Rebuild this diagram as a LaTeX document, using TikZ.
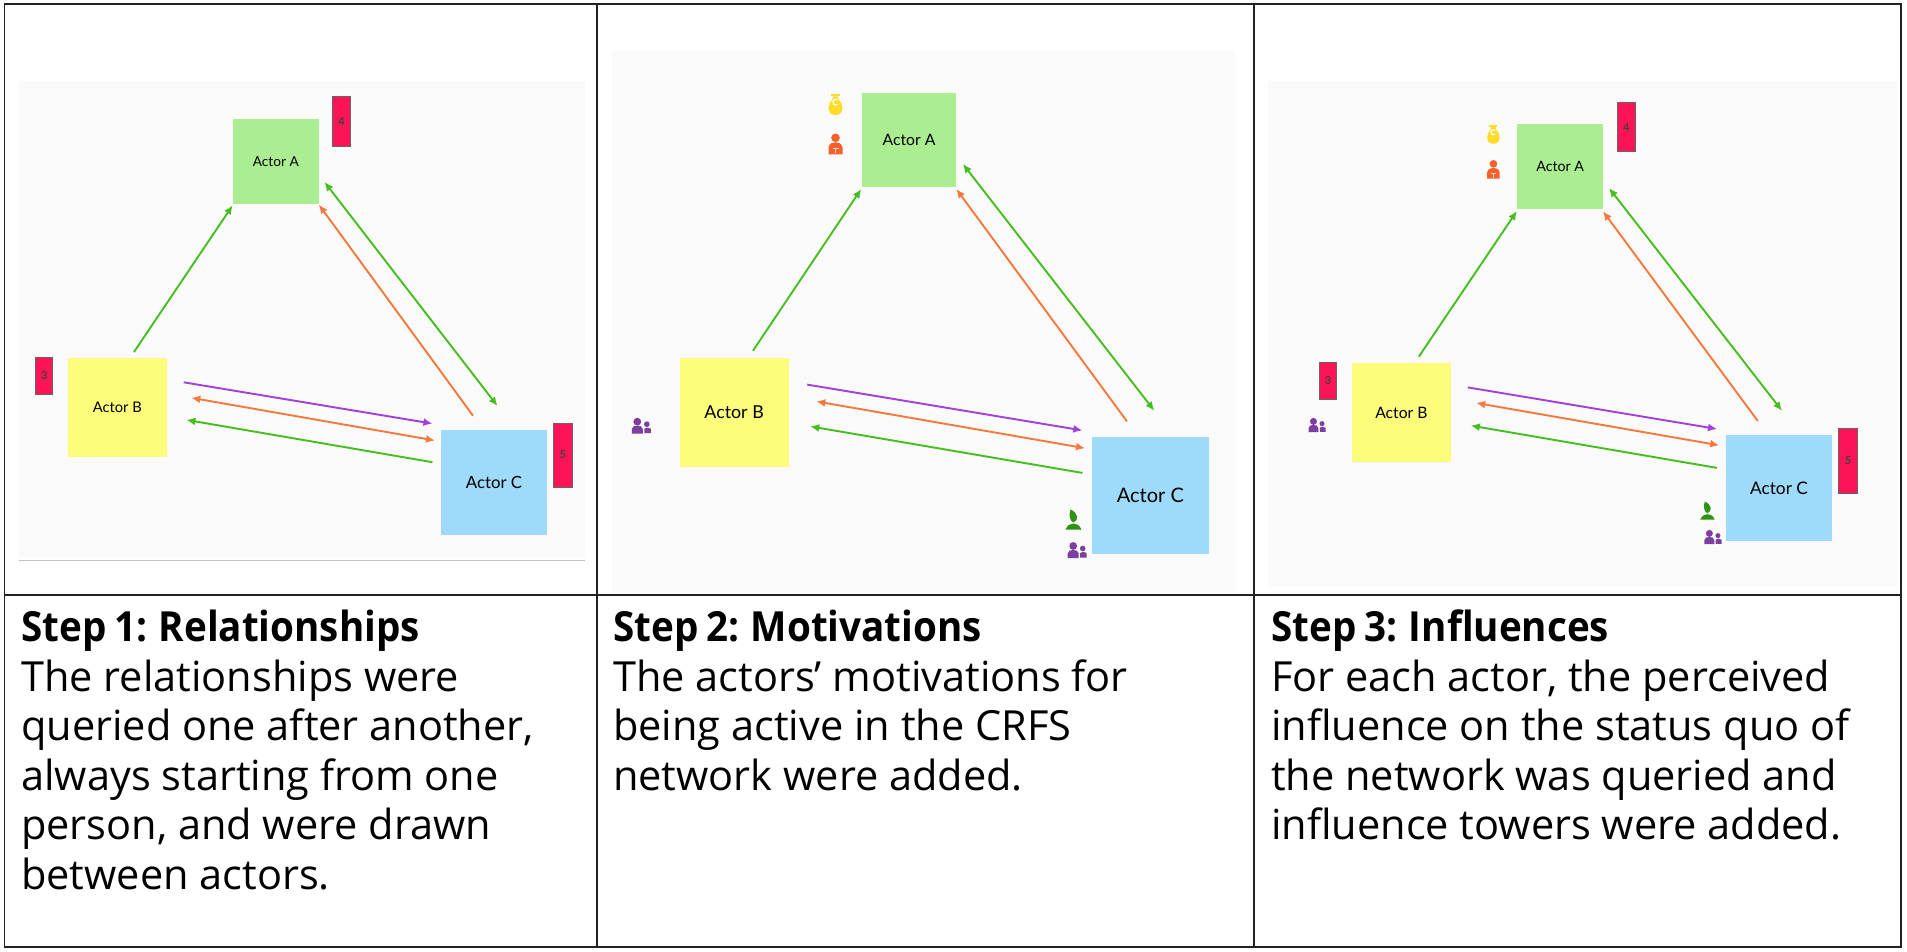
\documentclass[tikz,border=0pt]{standalone}
\usepackage{fontspec}
\setmainfont{Open Sans}
\newfontfamily\actorfont{Lato}
\newfontfamily\titlefont[FakeStretch=0.93,WordSpace=0.8]{Open Sans}
\usetikzlibrary{arrows.meta}
\definecolor{bgpanel}{HTML}{FAFAFA}
\definecolor{actA}{HTML}{ABEE92}
\definecolor{actB}{HTML}{FDFD7C}
\definecolor{actC}{HTML}{9EDBFB}
\definecolor{towerc}{HTML}{FC1457}
\definecolor{lgreen}{HTML}{46BE1E}
\definecolor{lorange}{HTML}{F5783C}
\definecolor{lpurple}{HTML}{A33FDB}
\definecolor{bagc}{HTML}{FFDC28}
\definecolor{readc}{HTML}{F5612A}
\definecolor{plantc}{HTML}{2E9410}
\definecolor{peoplec}{HTML}{7B3FA0}
\definecolor{framec}{HTML}{222222}
\newcommand{\steptitle}[1]{\rule{0pt}{32pt}{\titlefont\bfseries #1}}
\tikzset{
  x=1pt,y=-1pt,
  actorbox/.style={draw=none,inner sep=0pt,outer sep=0pt,font=\actorfont\fontsize{#1}{#1}\selectfont,text=black},
  towerbox/.style={fill=towerc,draw=black!60,line width=1pt,inner sep=0pt,font=\actorfont\fontsize{11}{11}\selectfont\bfseries,text=black!75},
  rel/.style={line width=1.9pt,-{Latex[length=9pt,width=8pt]}},
  relboth/.style={line width=1.9pt,{Latex[length=9pt,width=8pt]}-{Latex[length=9pt,width=8pt]}},
  framel/.style={draw=framec,line width=1.8pt},
  steptext/.style={anchor=north west,inner sep=0pt,align=left,text=black,font=\fontsize{41.5}{49.5}\selectfont},
  bagicon/.pic={
    \fill[bagc] (-4.5,-10.5) rectangle (4.5,-8);
    \fill[bagc] (-2.5,-8) -- (2.5,-8) -- (3,-5) .. controls (8,-1) and (9,9) .. (2,10.5) -- (-2,10.5) .. controls (-9,9) and (-8,-1) .. (-3,-5) -- cycle;
    \draw[white,line width=1.2pt] (2,0) arc (50:310:2.8);
  },
  readicon/.pic={
    \fill[readc] (0,-6.5) circle (4.3);
    \fill[readc] (-7,10) -- (-7,3) .. controls (-6,-1) and (-3,-2) .. (0,-2) .. controls (3,-2) and (6,-1) .. (7,3) -- (7,10) -- cycle;
    \draw[white!70!readc,line width=0.8pt] (-3,4) -- (3,4) (0,4) -- (0,9);
  },
  peopleicon/.pic={
    \fill[peoplec] (-3.5,-4) circle (3.9);
    \fill[peoplec] (-9,8) -- (-9,3.5) .. controls (-9,0.5) and (-6,0) .. (-3.5,0) .. controls (-1,0) and (2,0.5) .. (2,3.5) -- (2,8) -- cycle;
    \fill[peoplec] (6,-1.5) circle (2.8);
    \fill[peoplec] (3.5,7.5) -- (3.5,3) .. controls (4.5,1.5) and (8,1.5) .. (10,3) -- (10,7.5) -- cycle;
  },
  planticon/.pic={
    \fill[plantc] (-3,-10.5) .. controls (5,-7) and (5.5,0) .. (0,2.5) .. controls (-4.5,1) and (-4.5,-6) .. (-3,-10.5) -- cycle;
    \fill[plantc] (-8,9.5) .. controls (-6,5) and (-3,3.5) .. (0,3.5) .. controls (3,3.5) and (6,5) .. (8,9.5) -- cycle;
  },
}
\begin{document}
\begin{tikzpicture}
\useasboundingbox (0,0) rectangle (1907,952);
\fill[white] (0,0) rectangle (1907,952);
% backgrounds
\fill[bgpanel] (19,81) rectangle (585,557);
\fill[bgpanel] (612,51) rectangle (1235,592);
\fill[bgpanel] (1268,81) rectangle (1897,587);
\draw[black!24,line width=1pt] (19,560) -- (585,560);
% panel 1
\node[actorbox=13.7,fill=actA,minimum width=86pt,minimum height=85.5pt] (a1) at (275.8,161.3) {Actor A};
\node[actorbox=14.7,fill=actB,minimum width=99pt,minimum height=99pt] (b1) at (117.3,407.5) {Actor B};
\node[actorbox=16.8,fill=actC,minimum width=106pt,minimum height=105.5pt] (c1) at (494,482.3) {Actor C};
\node[towerbox,minimum width=18.5pt,minimum height=50pt] (ta1) at (341.5,122) {4};
\node[towerbox,minimum width=17pt,minimum height=37pt] (tb1) at (44.2,375.5) {3};
\node[towerbox,minimum width=19pt,minimum height=64pt] (tc1) at (562.7,455) {5};
\coordinate (p1a) at (134,352); \coordinate (p1b) at (232.7,205.3);
\coordinate (p1c) at (324.5,182); \coordinate (p1d) at (497.5,406);
\coordinate (p1e) at (473,415.7); \coordinate (p1f) at (318.8,204.6);
\coordinate (p1g) at (183.7,382.3); \coordinate (p1h) at (432.4,423.6);
\coordinate (p1i) at (191.3,397.8); \coordinate (p1j) at (435,440.5);
\coordinate (p1k) at (432.4,462.2); \coordinate (p1l) at (186.4,419.9);
\draw[rel,lgreen] (p1a) -- (p1b);
\draw[relboth,lgreen] (p1c) -- (p1d);
\draw[rel,lorange] (p1e) -- (p1f);
\draw[rel,lpurple] (p1g) -- (p1h);
\draw[relboth,lorange] (p1i) -- (p1j);
\draw[rel,lgreen] (p1k) -- (p1l);
% panel 2
\node[actorbox=15.7,fill=actA,minimum width=94.7pt,minimum height=94.3pt] (a2) at (909,140.3) {Actor A};
\node[actorbox=17.8,fill=actB,minimum width=109pt,minimum height=109pt] (b2) at (734.1,412) {Actor B};
\node[actorbox=20,fill=actC,minimum width=117.2pt,minimum height=116.8pt] (c2) at (1150.4,495.2) {Actor C};
\coordinate (p2a) at (753,350.7); \coordinate (p2b) at (861.2,189);
\coordinate (p2c) at (962.9,164); \coordinate (p2d) at (1154.3,410.7);
\coordinate (p2e) at (1127,421.4); \coordinate (p2f) at (956.3,189);
\coordinate (p2g) at (807.3,384.6); \coordinate (p2h) at (1082.4,430.4);
\coordinate (p2i) at (816.3,401.4); \coordinate (p2j) at (1085,448.2);
\coordinate (p2k) at (1082.4,472.9); \coordinate (p2l) at (810.2,426.4);
\draw[rel,lgreen] (p2a) -- (p2b);
\draw[relboth,lgreen] (p2c) -- (p2d);
\draw[rel,lorange] (p2e) -- (p2f);
\draw[rel,lpurple] (p2g) -- (p2h);
\draw[relboth,lorange] (p2i) -- (p2j);
\draw[rel,lgreen] (p2k) -- (p2l);
\pic at (835.5,104.3) {bagicon};
\pic at (835.5,144.3) {readicon};
\pic at (640.8,425.7) {peopleicon};
\pic at (1076.7,550) {peopleicon};
\pic at (1073.5,520) {planticon};
% panel 3
\node[actorbox=14.2,fill=actA,minimum width=85.7pt,minimum height=85.5pt] (a3) at (1560.2,166.5) {Actor A};
\node[actorbox=15.7,fill=actB,minimum width=99.2pt,minimum height=99pt] (b3) at (1401.4,412.5) {Actor B};
\node[actorbox=17.3,fill=actC,minimum width=106pt,minimum height=106pt] (c3) at (1779,488) {Actor C};
\node[towerbox,minimum width=18.4pt,minimum height=49.3pt] (ta3) at (1626.2,127.2) {4};
\node[towerbox,minimum width=17.2pt,minimum height=36.5pt] (tb3) at (1328.1,381) {3};
\node[towerbox,minimum width=19pt,minimum height=64.7pt] (tc3) at (1848,460.7) {5};
\coordinate (p3a) at (1418.8,356.7); \coordinate (p3b) at (1516.9,211);
\coordinate (p3c) at (1609,188); \coordinate (p3d) at (1782,410.8);
\coordinate (p3e) at (1757.8,421); \coordinate (p3f) at (1603,211.3);
\coordinate (p3g) at (1467.8,387.4); \coordinate (p3h) at (1717,429);
\coordinate (p3i) at (1476.2,403); \coordinate (p3j) at (1719.2,445.3);
\coordinate (p3k) at (1717,467.9); \coordinate (p3l) at (1470.8,425.6);
\draw[rel,lgreen] (p3a) -- (p3b);
\draw[relboth,lgreen] (p3c) -- (p3d);
\draw[rel,lorange] (p3e) -- (p3f);
\draw[rel,lpurple] (p3g) -- (p3h);
\draw[relboth,lorange] (p3i) -- (p3j);
\draw[rel,lgreen] (p3k) -- (p3l);
\pic[scale=0.9] at (1493.4,134.2) {bagicon};
\pic[scale=0.9] at (1493.4,169.7) {readicon};
\pic[scale=0.9] at (1316.6,425) {peopleicon};
\pic[scale=0.9] at (1712.5,537) {peopleicon};
\pic[scale=0.9] at (1707.5,511) {planticon};
% frame
\draw[framel] (4.5,4) rectangle (1901,947);
\draw[framel] (4.5,595) -- (1901,595);
\draw[framel] (597,4) -- (597,947);
\draw[framel] (1254,4) -- (1254,947);
% texts
\node[steptext] (s1) at (21,609.7) {\steptitle{Step 1: Relationships}\\The relationships were\\queried one after another,\\always starting from one\\person, and were drawn\\between actors.};
\node[steptext] (s2) at (613,609.7) {\steptitle{Step 2: Motivations}\\The actors’ motivations for\\being active in the CRFS\\network were added.};
\node[steptext] (s3) at (1271,609.7) {\steptitle{Step 3: Influences}\\For each actor, the perceived\\influence on the status quo of\\the network was queried and\\influence towers were added.};
\end{tikzpicture}
\end{document}
